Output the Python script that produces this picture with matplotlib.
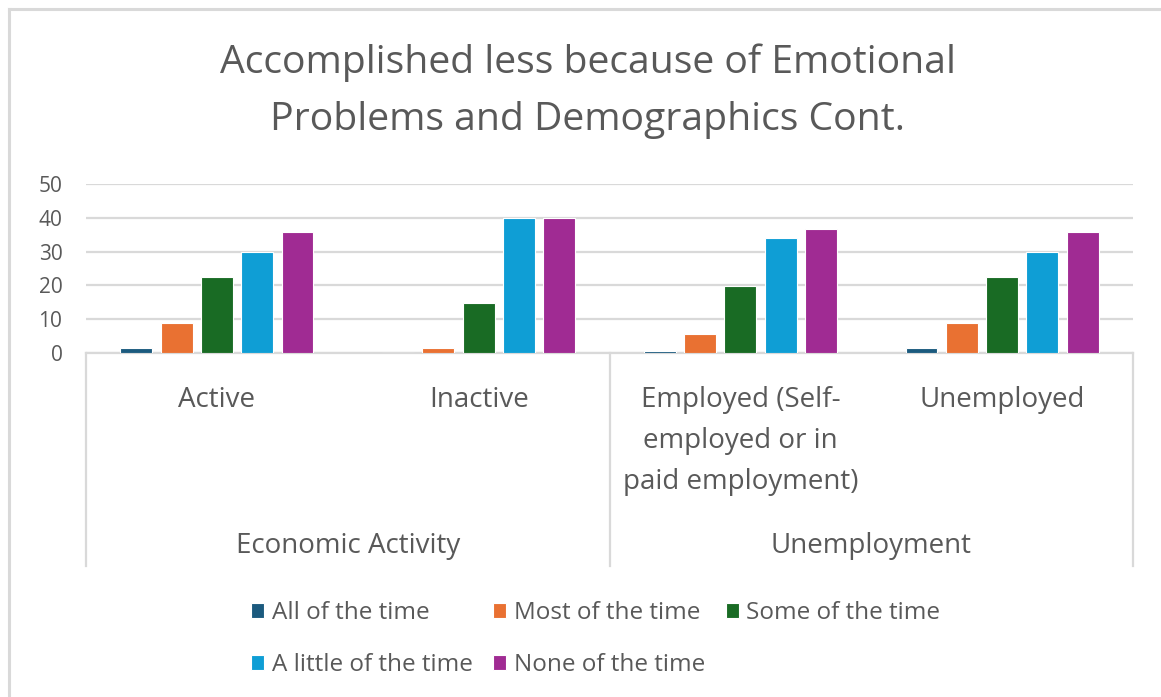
import matplotlib
matplotlib.use("Agg")
import matplotlib.pyplot as plt
import numpy as np
from matplotlib.lines import Line2D

plt.rcParams['font.family'] = ['Open Sans', 'DejaVu Sans']

title = "Accomplished less because of Emotional\nProblems and Demographics Cont."
categories = ["Active", "Inactive", "Employed (Self-\nemployed or in\npaid employment)", "Unemployed"]
groups = ["Economic Activity", "Unemployment"]
group_sizes = [2, 2]
series = ["All of the time", "Most of the time", "Some of the time",
          "A little of the time", "None of the time"]
all_time = [1.5, 0.0, 0.6, 1.5]
most_time = [8.8, 1.5, 5.7, 8.8]
some_time = [22.6, 14.7, 19.9, 22.6]
little_time = [29.9, 39.9, 33.9, 29.9]
none_time = [35.8, 39.9, 36.7, 35.8]
yticks = [0, 10, 20, 30, 40, 50]

values = [all_time, most_time, some_time, little_time, none_time]
colors = ["#1b5a7e", "#e97132", "#196b24", "#0f9ed5", "#a02b93"]
text_color = "#595959"
grid_color = "#d9d9d9"

W, H = 1161, 697
fig = plt.figure(figsize=(W / 100, H / 100), dpi=100)

def fx(px):
    return px / W

def fy(py):
    return 1 - py / H

# outer border (top and left visible)
fig.add_artist(Line2D([fx(9), 1.0], [fy(9), fy(9)], color=grid_color, lw=2.2))
fig.add_artist(Line2D([fx(9), fx(9)], [fy(9), 0.0], color=grid_color, lw=2.2))

ax = fig.add_axes([fx(86), fy(353), fx(1133) - fx(86), fy(184) - fy(353)])
n = len(categories)
x = np.arange(n)
pitch = 0.154
bw = 0.122
for i, (name, vals, c) in enumerate(zip(series, values, colors)):
    ax.bar(x + (i - 2) * pitch, vals, width=bw, color=c, edgecolor="white",
           linewidth=0.8, label=name, zorder=3)

ax.set_xlim(-0.5, n - 0.5)
ax.set_ylim(0, 50)
ax.set_yticks(yticks)
ax.set_yticklabels([str(v) for v in yticks])
ax.tick_params(axis='y', length=0, labelsize=15, labelcolor=text_color, pad=17)
ax.set_xticks([])
ax.grid(axis='y', color=grid_color, lw=1.6, zorder=0)
for s in ['left', 'right', 'top']:
    ax.spines[s].set_visible(False)
ax.spines['bottom'].set_color(grid_color)
ax.spines['bottom'].set_linewidth(1.6)

# hierarchical category axis
trans = ax.get_xaxis_transform()

def ay(py):
    return (fy(py) - fy(353)) / (fy(184) - fy(353))

bounds = [-0.5]
for g in group_sizes:
    bounds.append(bounds[-1] + g)
for b in bounds:
    ax.add_line(Line2D([b, b], [0, ay(566)], transform=trans,
                       color=grid_color, lw=1.6, clip_on=False))

for xi, lab in zip(x, categories):
    ax.text(xi, ay(386), lab, transform=trans, ha='center', va='top',
            fontsize=20, color=text_color, linespacing=1.62)
for gi, g in enumerate(groups):
    cx = (bounds[gi] + bounds[gi + 1]) / 2
    ax.text(cx, ay(546), g, transform=trans, ha='center', va='center',
            fontsize=20, color=text_color)

fig.text(fx(588), fy(91), title, ha='center', va='center', fontsize=28.2,
         color=text_color, linespacing=1.64)

order = [0, 3, 1, 4, 2]
handles, labels = ax.get_legend_handles_labels()
leg = fig.legend([handles[i] for i in order], [labels[i] for i in order],
                 ncol=3, loc='upper left', bbox_to_anchor=(fx(229), fy(579)),
                 frameon=False, fontsize=17.5, handlelength=0.55, handleheight=0.55,
                 handletextpad=0.3, columnspacing=0.85, labelspacing=1.17)
for t in leg.get_texts():
    t.set_color(text_color)

fig.savefig("out.png", dpi=100)
